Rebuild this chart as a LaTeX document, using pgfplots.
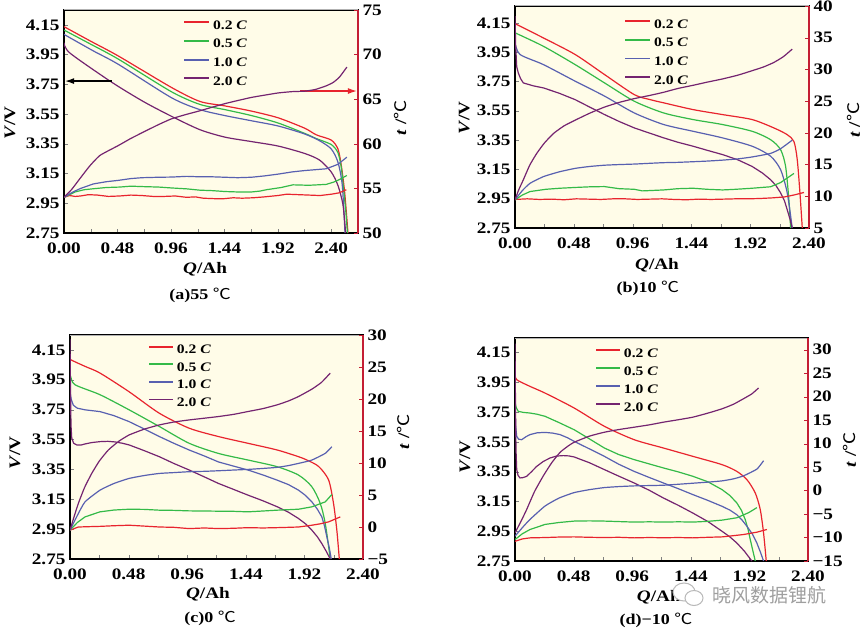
\documentclass[border=0pt]{standalone}
\usepackage{graphicx}
\usepackage{pgfplots}
\pgfplotsset{compat=1.18}
\usetikzlibrary{arrows.meta}
\usepackage{fontspec}
\setmainfont{Liberation Serif}
\newfontfamily\cjk{Noto Sans CJK SC}
\definecolor{cream}{RGB}{255,252,232}
\definecolor{cR}{RGB}{232,36,46}
\definecolor{cG}{RGB}{52,186,72}
\definecolor{cB}{RGB}{88,96,176}
\definecolor{cP}{RGB}{116,36,112}
\definecolor{axR}{RGB}{196,30,52}
\newcommand{\sx}[1]{\scalebox{1.2}[1]{#1}}
\newcommand{\tkf}{\fontsize{16}{18}\selectfont\bfseries}
\newcommand{\legf}{\fontsize{13}{15}\selectfont\bfseries}
\newcommand{\labf}{\fontsize{16}{18}\selectfont\bfseries}
\newcommand{\capf}{\fontsize{15}{17}\selectfont\bfseries}
\newcommand{\degc}{{\cjk\mdseries ℃}}
\newcommand{\lc}[1]{\sx{#1 \textit{C}}}
\pgfplotsset{
  base/.style={scale only axis, tick align=inside, major tick length=4pt, minor tick length=4pt,
    clip mode=individual, ticklabel style={font=\tkf},
    every axis plot/.append style={line width=1.2pt}},
  vax/.style={base, axis background/.style={fill=cream}, ymin=2.75, xmin=0,
    xtick={0,0.48,0.96,1.44,1.92,2.40},
    xticklabels={\sx{0.00},\sx{0.48},\sx{0.96},\sx{1.44},\sx{1.92},\sx{2.40}},
    minor xtick={0.24,0.72,1.2,1.68,2.16,2.64},
    ytick={2.75,2.95,3.15,3.35,3.55,3.75,3.95,4.15},
    yticklabels={\sx{2.75},\sx{2.95},\sx{3.15},\sx{3.35},\sx{3.55},\sx{3.75},\sx{3.95},\sx{4.15}},
    xtick pos=left, ytick pos=left, axis line style={line width=1.2pt},
    xticklabel style={yshift=-6pt}, yticklabel style={xshift=-1pt},
    xlabel={\sx{\textit{Q}/Ah}}, ylabel={\sx{\textit{V}/V}},
    label style={font=\labf},
    legend style={draw=none, fill=none, row sep=7.7pt, column sep=3pt, inner sep=0pt,
      nodes={inner sep=0pt, text height=9pt, text depth=2pt, font=\legf}, anchor=north west},
    legend cell align=left,
    legend image code/.code={\draw[#1, line width=1.8pt] (0pt,3.5pt) -- (25pt,3.5pt);}},
  vs/.style={smooth, tension=0.45},
  tax/.style={base, axis x line=none, axis y line*=right, ytick pos=right,
    y axis line style={axR, line width=1.6pt, -}, ytick style={axR}, xmin=0,
    yticklabel style={xshift=1pt},
    ylabel={\sx{\textit{t} /\degc}}, label style={font=\labf}},
}
\begin{document}
\begin{tikzpicture}
\path[use as bounding box, fill=white] (0,0) rectangle (864pt,630pt);

% ================= (a) 55 C =================
\begin{axis}[vax, at={(64pt,397pt)}, width=294pt, height=223pt, xmax=2.64, ymax=4.25,
  xlabel style={at={(axis description cs:0.48,-0.161)}, anchor=center},
  ylabel style={at={(axis description cs:-0.184,0.493)}, anchor=center},
  legend style={at={(axis description cs:0.405,0.955)}}]
\addplot[cR, vs] coordinates {(0,4.138)(0.24,4.04)(0.487,3.941)(0.965,3.729)(1.22,3.635)(1.444,3.605)(1.683,3.57)(1.922,3.525)(2.161,3.455)(2.266,3.41)(2.40,3.375)(2.46,3.315)(2.49,3.204)(2.52,3.025)(2.55,2.75)};
\addlegendentry{\lc{0.2}}
\addplot[cG, vs] coordinates {(0,4.115)(0.24,4.02)(0.487,3.92)(0.965,3.70)(1.22,3.615)(1.444,3.58)(1.683,3.54)(1.922,3.49)(2.161,3.42)(2.266,3.385)(2.40,3.345)(2.46,3.29)(2.49,3.19)(2.51,3.05)(2.53,2.9)(2.545,2.75)};
\addlegendentry{\lc{0.5}}
\addplot[cB, vs] coordinates {(0,4.086)(0.263,3.975)(0.487,3.885)(0.965,3.66)(1.22,3.58)(1.444,3.54)(1.683,3.505)(1.922,3.47)(2.161,3.416)(2.296,3.37)(2.40,3.315)(2.46,3.226)(2.499,3.07)(2.523,2.75)};
\addlegendentry{\lc{1.0}}
\addplot[cP, vs] coordinates {(0,4.03)(0.054,3.96)(0.427,3.765)(0.711,3.635)(0.965,3.535)(1.22,3.445)(1.444,3.395)(1.683,3.365)(1.922,3.335)(2.161,3.285)(2.296,3.24)(2.40,3.16)(2.46,3.07)(2.505,2.94)(2.529,2.75)};
\addlegendentry{\lc{2.0}}
\draw[-{Latex[length=9pt,width=6pt]}, line width=1.2pt] (axis cs:0.431,3.772) -- (axis cs:0.01,3.772);
\draw[cR, -{Latex[length=9pt,width=6pt]}, line width=1.2pt] (axis cs:2.119,3.705) -- (axis cs:2.63,3.705);
\draw[gray!60, line width=1pt] (rel axis cs:0,1) -- (rel axis cs:1,1);
\node[font=\capf] at (axis description cs:0.463,-0.278) {\sx{(a)55 \degc}};
\end{axis}
\begin{axis}[tax, at={(64pt,397pt)}, width=294pt, height=223pt, xmax=2.64, ymin=50, ymax=75,
  ytick={50,55,60,65,70,75}, yticklabels={\sx{50},\sx{55},\sx{60},\sx{65},\sx{70},\sx{75}},
  ylabel style={at={(axis description cs:1.143,0.516)}, anchor=center}]
\addplot[cR] coordinates {(0,54.0)(0.05,54.2)(0.1,54.1)(0.15,54.15)(0.22,54.3)(0.3,54.25)(0.4,54.1)(0.5,54.15)(0.6,54.25)(0.7,54.2)(0.8,54.1)(0.9,54.1)(1.0,54.15)(1.1,54.0)(1.18,54.05)(1.25,53.9)(1.35,53.85)(1.44,53.85)(1.52,53.95)(1.6,53.9)(1.7,53.95)(1.8,54.05)(1.92,54.2)(2.0,54.35)(2.1,54.3)(2.2,54.25)(2.3,54.2)(2.4,54.35)(2.47,54.5)(2.535,54.85)};
\addplot[cG] coordinates {(0,54.0)(0.1,54.6)(0.18,54.85)(0.263,54.96)(0.38,55.1)(0.5,55.15)(0.6,55.25)(0.711,55.2)(0.85,55.15)(0.965,55.05)(1.1,54.95)(1.22,54.8)(1.33,54.75)(1.444,54.65)(1.56,54.6)(1.683,54.6)(1.76,54.7)(1.817,54.85)(1.95,55.1)(2.056,55.4)(2.2,55.35)(2.355,55.45)(2.42,55.7)(2.475,56.0)(2.54,56.45)};
\addplot[cB] coordinates {(0,54.0)(0.08,54.6)(0.15,55.0)(0.263,55.5)(0.38,55.75)(0.487,55.9)(0.6,56.1)(0.7,56.2)(0.85,56.25)(0.965,56.27)(1.1,56.35)(1.22,56.3)(1.33,56.3)(1.444,56.25)(1.56,56.2)(1.683,56.25)(1.8,56.4)(1.922,56.6)(2.05,56.85)(2.161,57.0)(2.26,57.1)(2.355,57.2)(2.46,57.7)(2.54,58.5)};
\addplot[cP, smooth, tension=0.3] coordinates {(0,54.0)(0.07,54.9)(0.143,56.1)(0.23,57.5)(0.323,58.7)(0.487,59.8)(0.6,60.6)(0.711,61.3)(0.84,62.1)(0.965,62.8)(1.1,63.3)(1.22,63.7)(1.33,64.1)(1.444,64.5)(1.56,64.85)(1.683,65.2)(1.8,65.45)(1.922,65.7)(2.05,65.85)(2.161,65.9)(2.26,66.1)(2.355,66.5)(2.42,66.9)(2.475,67.5)(2.54,68.6)};
\end{axis}

% ================= (b) 10 C =================
\begin{axis}[vax, at={(515pt,402pt)}, width=294pt, height=222pt, xmax=2.40, ymax=4.265,
  xlabel style={at={(axis description cs:0.483,-0.167)}, anchor=center},
  ylabel style={at={(axis description cs:-0.173,0.495)}, anchor=center},
  legend style={at={(axis description cs:0.371,0.942)}}]
\addplot[cR, vs] coordinates {(0,4.145)(0.232,4.047)(0.491,3.934)(0.731,3.797)(0.974,3.66)(1.104,3.626)(1.214,3.604)(1.454,3.558)(1.694,3.524)(1.936,3.49)(2.113,3.433)(2.222,3.387)(2.277,3.34)(2.304,3.217)(2.326,2.99)(2.345,2.75)};
\addlegendentry{\lc{0.2}}
\addplot[cG, vs] coordinates {(0,4.082)(0.232,3.99)(0.491,3.865)(0.731,3.74)(0.974,3.615)(1.214,3.535)(1.454,3.49)(1.694,3.456)(1.936,3.41)(2.086,3.353)(2.168,3.285)(2.209,3.17)(2.236,2.94)(2.25,2.75)};
\addlegendentry{\lc{0.5}}
\addplot[cB, vs] coordinates {(0,4.013)(0.041,3.934)(0.232,3.865)(0.491,3.752)(0.731,3.65)(0.974,3.535)(1.214,3.456)(1.454,3.41)(1.694,3.365)(1.936,3.308)(2.086,3.24)(2.168,3.148)(2.222,2.99)(2.263,2.75)};
\addlegendentry{\lc{1.0}}
\addplot[cP] coordinates {(0,4.195)(0.005,4.0)(0.014,3.85)(0.027,3.808)(0.045,3.77)(0.068,3.74)(0.15,3.72)(0.232,3.706)(0.36,3.67)(0.491,3.626)(0.61,3.575)(0.731,3.524)(0.85,3.477)(0.974,3.433)(1.1,3.397)(1.214,3.365)(1.33,3.335)(1.454,3.308)(1.57,3.28)(1.694,3.251)(1.82,3.215)(1.936,3.17)(2.02,3.125)(2.086,3.08)(2.13,3.04)(2.168,2.99)(2.2,2.935)(2.222,2.875)(2.245,2.81)(2.263,2.75)};
\addlegendentry{\lc{2.0}}
\draw[gray!60, line width=1pt] (rel axis cs:0,1) -- (rel axis cs:1,1);
\node[font=\capf] at (axis description cs:0.452,-0.27) {\sx{(b)10 \degc}};
\end{axis}
\begin{axis}[tax, at={(515pt,402pt)}, width=294pt, height=222pt, xmax=2.40, ymin=5, ymax=40,
  ytick={5,10,15,20,25,30,35,40}, yticklabels={\sx{5},\sx{10},\sx{15},\sx{20},\sx{25},\sx{30},\sx{35},\sx{40}},
  ylabel style={at={(axis description cs:1.153,0.486)}, anchor=center}]
\addplot[cR] coordinates {(0,9.5)(0.1,9.6)(0.2,9.5)(0.3,9.55)(0.4,9.45)(0.5,9.6)(0.6,9.55)(0.7,9.5)(0.8,9.6)(0.9,9.6)(1.0,9.5)(1.1,9.55)(1.2,9.6)(1.3,9.5)(1.4,9.45)(1.5,9.55)(1.6,9.5)(1.7,9.55)(1.8,9.6)(1.9,9.6)(2.0,9.65)(2.1,9.75)(2.2,9.9)(2.277,10.2)(2.359,10.6)};
\addplot[cG] coordinates {(0,9.44)(0.06,10.2)(0.123,10.75)(0.25,11.1)(0.368,11.27)(0.5,11.4)(0.62,11.5)(0.731,11.53)(0.85,11.2)(0.974,11.1)(1.04,10.85)(1.1,10.9)(1.214,11.0)(1.33,11.2)(1.454,11.27)(1.57,11.1)(1.694,11.0)(1.8,11.1)(1.936,11.27)(2.086,11.5)(2.168,12.16)(2.277,13.6)};
\addplot[cB, smooth, tension=0.3] coordinates {(0,9.44)(0.06,10.9)(0.123,12.05)(0.232,13.1)(0.36,13.85)(0.491,14.4)(0.61,14.7)(0.731,14.9)(0.85,15.0)(0.974,15.08)(1.1,15.2)(1.214,15.3)(1.33,15.35)(1.454,15.45)(1.57,15.55)(1.694,15.7)(1.82,15.9)(1.936,16.2)(2.086,16.76)(2.168,17.5)(2.263,18.85)};
\addplot[cP, smooth, tension=0.3] coordinates {(0,9.44)(0.03,11.0)(0.068,12.6)(0.12,14.9)(0.177,16.75)(0.24,18.4)(0.314,19.9)(0.4,21.1)(0.491,22.0)(0.61,23.1)(0.731,24.07)(0.85,24.8)(0.974,25.4)(1.1,25.9)(1.214,26.4)(1.33,27.0)(1.454,27.5)(1.57,28.0)(1.694,28.5)(1.82,29.1)(1.936,29.8)(2.03,30.4)(2.113,31.1)(2.19,32.0)(2.263,33.2)};
\end{axis}

% ================= (c) 0 C =================
\begin{axis}[vax, at={(70pt,71pt)}, width=293pt, height=224pt, xmax=2.40, ymax=4.25,
  xlabel style={at={(axis description cs:0.471,-0.156)}, anchor=center},
  ylabel style={at={(axis description cs:-0.188,0.473)}, anchor=center},
  legend style={at={(axis description cs:0.266,0.958)}, row sep=6.6pt},
  legend image code/.code={\draw[#1, line width=1.8pt] (0pt,3.5pt) -- (24pt,3.5pt);}]
\addplot[cR, vs] coordinates {(0,4.10)(0.005,4.085)(0.123,4.04)(0.246,3.995)(0.484,3.87)(0.732,3.726)(0.976,3.626)(1.216,3.57)(1.457,3.525)(1.697,3.48)(1.872,3.435)(1.94,3.413)(2.036,3.37)(2.118,3.28)(2.159,3.12)(2.186,2.94)(2.206,2.75)};
\addlegendentry{\lc{0.2}}
\addplot[cG, vs] coordinates {(0,3.99)(0.005,3.973)(0.041,3.917)(0.246,3.85)(0.484,3.749)(0.732,3.637)(0.976,3.525)(1.216,3.457)(1.457,3.413)(1.697,3.368)(1.872,3.312)(1.981,3.234)(2.05,3.122)(2.091,2.987)(2.132,2.75)};
\addlegendentry{\lc{0.5}}
\addplot[cB] coordinates {(0,3.87)(0.01,3.82)(0.027,3.78)(0.06,3.76)(0.123,3.749)(0.246,3.737)(0.36,3.71)(0.484,3.67)(0.61,3.62)(0.732,3.57)(0.85,3.525)(0.976,3.48)(1.1,3.44)(1.216,3.40)(1.34,3.372)(1.457,3.346)(1.58,3.313)(1.697,3.278)(1.79,3.248)(1.872,3.211)(1.93,3.175)(1.981,3.133)(2.025,3.085)(2.063,3.032)(2.085,2.97)(2.104,2.898)(2.125,2.82)(2.14,2.75)};
\addlegendentry{\lc{1.0}}
\addplot[cP] coordinates {(0,4.22)(0.004,3.9)(0.008,3.65)(0.014,3.56)(0.03,3.525)(0.055,3.514)(0.09,3.513)(0.12,3.52)(0.18,3.53)(0.246,3.536)(0.31,3.538)(0.369,3.534)(0.43,3.525)(0.484,3.514)(0.61,3.475)(0.732,3.435)(0.85,3.39)(0.976,3.346)(1.1,3.3)(1.216,3.256)(1.34,3.216)(1.457,3.178)(1.58,3.14)(1.697,3.10)(1.79,3.063)(1.872,3.021)(1.93,2.985)(1.981,2.943)(2.025,2.9)(2.063,2.853)(2.1,2.8)(2.132,2.75)};
\addlegendentry{\lc{2.0}}
\draw[gray!60, line width=1pt] (rel axis cs:0,1) -- (rel axis cs:1,1);
\node[font=\capf] at (axis description cs:0.478,-0.263) {\sx{(c)0 \degc}};
\end{axis}
\begin{axis}[tax, at={(70pt,71pt)}, width=293pt, height=224pt, xmax=2.40, ymin=-5, ymax=30,
  ytick={-5,0,5,10,15,20,25,30}, yticklabels={\sx{−5},\sx{0},\sx{5},\sx{10},\sx{15},\sx{20},\sx{25},\sx{30}},
  ylabel style={at={(axis description cs:1.137,0.567)}, anchor=center}]
\addplot[cR] coordinates {(0,-0.5)(0.068,0.0)(0.15,0.05)(0.246,0.1)(0.36,0.2)(0.484,0.28)(0.6,0.15)(0.732,0.0)(0.85,-0.05)(0.976,-0.25)(1.1,-0.15)(1.216,-0.25)(1.34,-0.2)(1.457,-0.1)(1.58,-0.15)(1.697,-0.1)(1.79,-0.05)(1.872,0.0)(1.981,0.28)(2.05,0.5)(2.118,0.8)(2.214,1.58)};
\addplot[cG] coordinates {(0,-0.5)(0.06,0.7)(0.123,1.58)(0.246,2.37)(0.36,2.65)(0.484,2.78)(0.61,2.75)(0.732,2.63)(0.85,2.6)(0.976,2.52)(1.1,2.5)(1.216,2.47)(1.34,2.45)(1.457,2.37)(1.58,2.5)(1.697,2.63)(1.872,2.78)(1.981,3.15)(2.091,3.93)(2.145,5.08)};
\addplot[cB, smooth, tension=0.3] coordinates {(0,-0.5)(0.06,1.8)(0.123,3.93)(0.246,5.76)(0.36,6.8)(0.484,7.59)(0.61,8.05)(0.732,8.37)(0.85,8.5)(0.976,8.64)(1.1,8.7)(1.216,8.79)(1.34,8.9)(1.457,9.0)(1.58,9.15)(1.697,9.32)(1.79,9.6)(1.872,9.94)(1.981,10.46)(2.091,11.51)(2.145,12.55)};
\addplot[cP, smooth, tension=0.3] coordinates {(0,-0.5)(0.03,1.4)(0.068,3.67)(0.12,6.2)(0.178,8.37)(0.24,10.3)(0.314,12.03)(0.4,13.4)(0.484,14.38)(0.61,15.3)(0.732,15.95)(0.85,16.4)(0.976,16.73)(1.1,17.0)(1.216,17.26)(1.34,17.6)(1.457,18.04)(1.58,18.5)(1.697,19.09)(1.79,19.7)(1.872,20.39)(1.981,21.54)(2.06,22.6)(2.132,24.05)};
\end{axis}

% ================= (d) -10 C =================
\begin{axis}[vax, at={(515pt,69pt)}, width=293pt, height=223pt, xmax=2.40, ymax=4.248,
  xlabel style={at={(axis description cs:0.491,-0.161)}, anchor=center},
  ylabel style={at={(axis description cs:-0.171,0.466)}, anchor=center},
  legend style={at={(axis description cs:0.273,0.955)}, row sep=7pt},
  legend image code/.code={\draw[#1, line width=1.8pt] (0pt,3.5pt) -- (24pt,3.5pt);}]
\addplot[cR, vs] coordinates {(0,4.01)(0.014,3.968)(0.123,3.923)(0.246,3.878)(0.484,3.778)(0.732,3.655)(0.976,3.565)(1.216,3.509)(1.457,3.453)(1.697,3.397)(1.817,3.352)(1.90,3.296)(1.968,3.207)(2.009,3.095)(2.036,2.938)(2.058,2.75)};
\addlegendentry{\lc{0.2}}
\addplot[cG] coordinates {(0,3.82)(0.01,3.78)(0.027,3.755)(0.07,3.748)(0.123,3.744)(0.18,3.736)(0.246,3.722)(0.36,3.68)(0.484,3.632)(0.61,3.57)(0.732,3.509)(0.85,3.465)(0.976,3.431)(1.1,3.402)(1.216,3.375)(1.34,3.348)(1.457,3.319)(1.58,3.282)(1.697,3.229)(1.76,3.19)(1.817,3.14)(1.855,3.09)(1.886,3.028)(1.91,2.96)(1.927,2.894)(1.948,2.82)(1.968,2.75)};
\addlegendentry{\lc{0.5}}
\addplot[cB] coordinates {(0,3.8)(0.005,3.66)(0.014,3.587)(0.03,3.568)(0.055,3.565)(0.09,3.585)(0.123,3.599)(0.18,3.611)(0.246,3.614)(0.31,3.609)(0.369,3.599)(0.43,3.578)(0.484,3.554)(0.61,3.503)(0.732,3.453)(0.85,3.4)(0.976,3.352)(1.1,3.311)(1.216,3.274)(1.34,3.235)(1.457,3.196)(1.58,3.157)(1.697,3.117)(1.76,3.092)(1.817,3.061)(1.86,3.025)(1.90,2.983)(1.945,2.93)(1.981,2.871)(2.01,2.81)(2.036,2.75)};
\addlegendentry{\lc{1.0}}
\addplot[cP] coordinates {(0,4.21)(0.004,3.8)(0.008,3.5)(0.014,3.364)(0.025,3.325)(0.041,3.308)(0.065,3.31)(0.096,3.319)(0.135,3.35)(0.178,3.386)(0.23,3.418)(0.287,3.442)(0.34,3.455)(0.396,3.458)(0.44,3.456)(0.484,3.449)(0.61,3.41)(0.732,3.364)(0.85,3.32)(0.976,3.274)(1.1,3.225)(1.216,3.173)(1.34,3.123)(1.457,3.072)(1.58,3.015)(1.697,2.949)(1.76,2.912)(1.817,2.871)(1.88,2.815)(1.94,2.75)};
\addlegendentry{\lc{2.0}}
\draw[gray!60, line width=1pt] (rel axis cs:0,1) -- (rel axis cs:1,1);
\node[font=\capf] at (axis description cs:0.481,-0.265) {\sx{(d)−10 \degc}};
\end{axis}
\begin{axis}[tax, at={(515pt,69pt)}, width=293pt, height=223pt, xmax=2.40, ymin=-15, ymax=32.5,
  ytick={-15,-10,-5,0,5,10,15,20,25,30}, yticklabels={\sx{−15},\sx{−10},\sx{−5},\sx{0},\sx{5},\sx{10},\sx{15},\sx{20},\sx{25},\sx{30}},
  ylabel style={at={(axis description cs:1.143,0.498)}, anchor=center}]
\addplot[cR] coordinates {(0,-10.8)(0.06,-10.3)(0.123,-10.07)(0.25,-10.0)(0.36,-9.9)(0.484,-9.86)(0.61,-9.95)(0.732,-10.0)(0.85,-9.95)(0.976,-10.07)(1.1,-10.0)(1.216,-10.05)(1.34,-10.0)(1.457,-10.07)(1.58,-9.95)(1.697,-9.86)(1.79,-9.6)(1.872,-9.36)(1.981,-8.86)(2.063,-8.29)};
\addplot[cG] coordinates {(0,-10.43)(0.06,-9.2)(0.123,-8.29)(0.246,-7.21)(0.36,-6.8)(0.484,-6.5)(0.61,-6.45)(0.732,-6.5)(0.85,-6.6)(0.976,-6.71)(1.1,-6.65)(1.216,-6.71)(1.34,-6.65)(1.457,-6.71)(1.58,-6.55)(1.697,-6.29)(1.817,-5.79)(1.913,-4.71)(1.981,-3.64)};
\addplot[cB, smooth, tension=0.3] coordinates {(0,-9.71)(0.06,-7.9)(0.123,-6.14)(0.246,-3.29)(0.36,-1.6)(0.484,-0.43)(0.61,0.2)(0.732,0.64)(0.85,0.85)(0.976,1.0)(1.1,1.07)(1.216,1.14)(1.34,1.35)(1.457,1.57)(1.58,1.8)(1.697,2.07)(1.79,2.5)(1.872,3.14)(1.981,4.57)(2.036,6.36)};
\addplot[cP, smooth, tension=0.3] coordinates {(0,-9.0)(0.05,-6.5)(0.096,-4.0)(0.16,-0.2)(0.232,3.14)(0.3,5.9)(0.369,8.14)(0.43,9.4)(0.484,10.29)(0.61,11.6)(0.732,12.43)(0.85,13.0)(0.976,13.5)(1.1,14.0)(1.216,14.57)(1.34,15.1)(1.457,15.64)(1.58,16.5)(1.697,17.43)(1.79,18.4)(1.872,19.57)(1.94,20.6)(1.995,21.86)};
\end{axis}

% watermark
\draw[gray!55, line width=1pt, fill=white] (684pt,38pt) ellipse (11pt and 9pt);
\draw[gray!55, line width=1pt, fill=white] (694pt,32pt) ellipse (9pt and 7.5pt);
\node[text=gray!75, font=\fontsize{19}{21}\selectfont\cjk, anchor=west] at (709pt,35pt) {晓风数据锂航};
\end{tikzpicture}
\end{document}
